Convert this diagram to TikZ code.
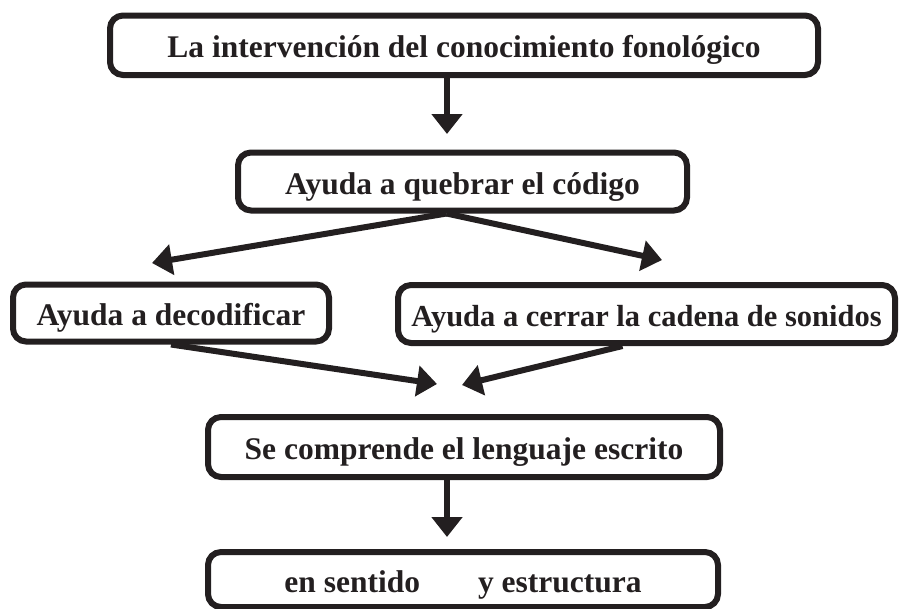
\documentclass[tikz,border=0pt]{standalone}
\usepackage{fontspec}
\setmainfont{Liberation Serif}
\usetikzlibrary{arrows.meta}
\definecolor{ink}{HTML}{231F20}
\begin{document}
\begin{tikzpicture}[x=1pt,y=-1pt,
  box/.style={draw=ink, line width=6pt, rounded corners=13pt, inner sep=0pt,
    text height=27pt, text depth=2pt,
    font=\fontsize{31.5}{36}\selectfont\bfseries, text=ink},
  conn/.style={draw=ink, line width=6pt, -{Triangle[width=30pt,length=20pt]}}]
\useasboundingbox (0,0) rectangle (902,608);
\node[box, minimum width=708pt, minimum height=59.5pt] (b1) at (464,45.25) {La intervención del conocimiento fonológico};
\node[box, minimum width=449pt, minimum height=58pt] (b2) at (462.5,181.5) {Ayuda a quebrar el código};
\node[box, minimum width=316pt, minimum height=57pt] (b3) at (171,313) {Ayuda a decodificar};
\node[box, minimum width=497pt, minimum height=58pt, font=\fontsize{30.5}{35}\selectfont\bfseries] (b4) at (646.5,314) {Ayuda a cerrar la cadena de sonidos};
\node[box, minimum width=512pt, minimum height=60pt] (b5) at (464,447) {Se comprende el lenguaje escrito};
\node[box, minimum width=510pt, minimum height=55pt] (b6) at (463,579.5) {en sentido\hspace{58pt}y estructura};
\coordinate (t1) at (447,134);
\coordinate (t2l) at (152,263);
\coordinate (t2r) at (662,260);
\coordinate (t3l) at (437,384);
\coordinate (t3r) at (462,385);
\coordinate (t4) at (447,537);
\draw[conn] ([xshift=-17pt]b1.south) -- (t1);
\draw[conn] ([xshift=-16pt]b2.south) -- (t2l);
\draw[conn] ([xshift=-16pt]b2.south) -- (t2r);
\draw[conn] (b3.south) -- (t3l);
\draw[conn] ([xshift=-24pt]b4.south) -- (t3r);
\draw[conn] ([xshift=-17pt]b5.south) -- (t4);
\end{tikzpicture}
\end{document}
